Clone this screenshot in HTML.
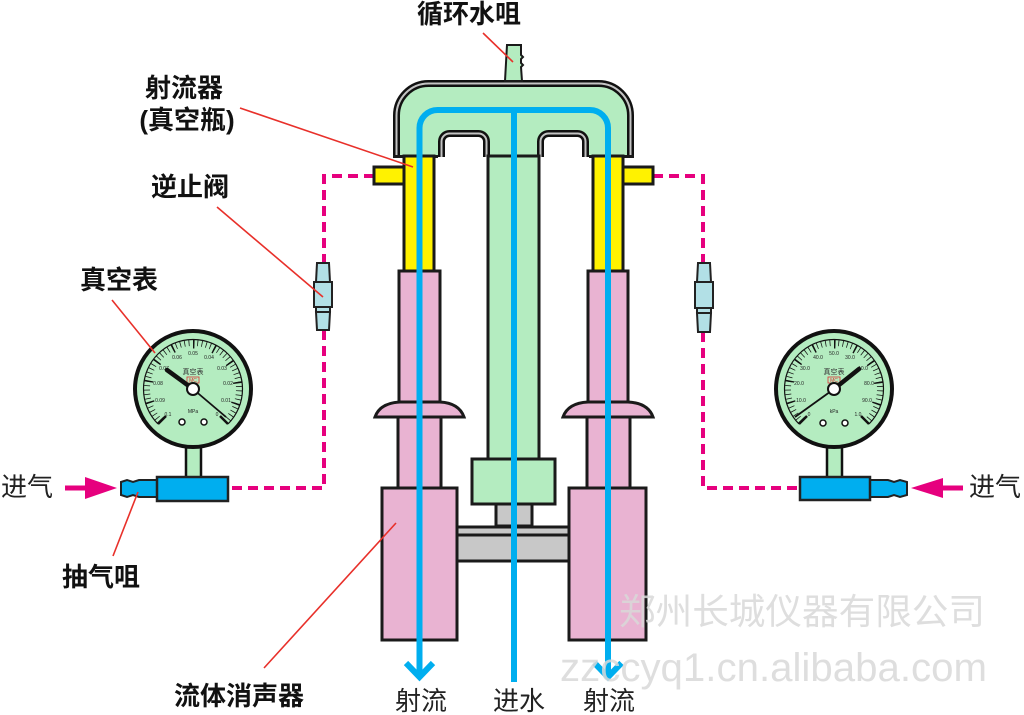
<!DOCTYPE html>
<html>
<head>
<meta charset="utf-8">
<style>
html,body{margin:0;padding:0;background:#fff;}
body{width:1024px;height:715px;overflow:hidden;}
svg{display:block;}
.lb{font-family:"Liberation Sans","Noto Sans CJK SC",sans-serif;font-weight:bold;font-size:26px;fill:#111;}
.ln{font-family:"Liberation Sans","Noto Sans CJK SC",sans-serif;font-weight:normal;font-size:26px;fill:#222;}
.g{font-family:"Liberation Sans","Noto Sans CJK SC",sans-serif;font-size:5px;fill:#222;}
.wm{font-family:"Liberation Sans","Noto Sans CJK SC",sans-serif;fill:#d9d9d9;opacity:0.85;}
</style>
</head>
<body>
<svg width="1024" height="715" viewBox="0 0 1024 715" xmlns="http://www.w3.org/2000/svg">
<!-- dashed magenta air lines -->
<g fill="none" stroke="#e6007e" stroke-width="4" stroke-dasharray="10 6">
  <path d="M374,176 L324,176 L324,263"/>
  <path d="M324,330 L324,488 L228,488"/>
  <path d="M653,176 L703,176 L703,263"/>
  <path d="M703,332 L703,488 L800,488"/>
</g>

<!-- check valves -->
<g fill="#b2e0e6" stroke="#222" stroke-width="2">
  <polygon points="317,263 329,263 330,282 316,282"/>
  <rect x="314" y="282" width="18" height="25"/>
  <rect x="316" y="307" width="14" height="5"/>
  <polygon points="316,312 330,312 329,330 317,330"/>
  <polygon points="698,263 710,263 711,282 697,282"/>
  <rect x="695" y="282" width="18" height="26"/>
  <rect x="697" y="308" width="14" height="5"/>
  <polygon points="697,313 711,313 710,332 698,332"/>
</g>

<!-- LEFT GAUGE -->
<g>
  <rect x="186" y="444" width="15" height="34" fill="#b4ecc0" stroke="#111" stroke-width="2.5"/>
  <circle cx="193" cy="389" r="58" fill="#b4ecc0" stroke="#111" stroke-width="4"/>
  <path d="M158,424 A49.5,49.5 0 1 1 228,424" fill="none" stroke="#111" stroke-width="1.2"/>
  <path d="M160.5,421.5 A46,46 0 1 1 225.5,421.5" fill="none" stroke="#111" stroke-width="6" pathLength="100" stroke-dasharray="0.35 1.65"/>
  <path d="M161.2,420.8 A45,45 0 1 1 224.8,420.8" fill="none" stroke="#111" stroke-width="9" pathLength="100" stroke-dasharray="0.7 9.3"/>
  <line x1="158" y1="424" x2="166" y2="416" stroke="#111" stroke-width="2.5"/>
  <line x1="228" y1="424" x2="220" y2="416" stroke="#111" stroke-width="2.5"/>
  <g class="g" text-anchor="middle">
    <text x="168" y="416">0.1</text>
    <text x="160" y="402">0.09</text>
    <text x="158" y="385">0.08</text>
    <text x="164" y="370">0.07</text>
    <text x="177" y="359">0.06</text>
    <text x="193" y="355">0.05</text>
    <text x="209" y="359">0.04</text>
    <text x="222" y="370">0.03</text>
    <text x="228" y="385">0.02</text>
    <text x="226" y="402">0.01</text>
    <text x="217" y="416">0</text>
    <text x="193" y="413">MPa</text>
  </g>
  <text x="193" y="374" text-anchor="middle" style="font-family:'Noto Sans CJK SC',sans-serif;font-size:7px;fill:#333;">真空表</text>
  <rect x="187" y="377" width="12" height="6" fill="none" stroke="#d33" stroke-width="0.8"/>
  <text x="193" y="382" text-anchor="middle" style="font-family:'Liberation Sans',sans-serif;font-size:5px;fill:#d33;">MC</text>
  <line x1="193" y1="389" x2="226" y2="417" stroke="#111" stroke-width="1.8"/>
  <line x1="193" y1="389" x2="167" y2="370" stroke="#111" stroke-width="4.5" stroke-linecap="round"/>
  <circle cx="193" cy="389" r="6" fill="#fff" stroke="#111" stroke-width="2"/>
  <circle cx="182" cy="422" r="3" fill="#fff" stroke="#111" stroke-width="1.5"/>
  <circle cx="204" cy="422" r="3" fill="#fff" stroke="#111" stroke-width="1.5"/>
  <!-- body -->
  <path d="M121,482 L127,480 L133,482 L139,480 L157,480 L157,497 L139,497 L133,495 L127,497 L121,495 Z" fill="#00aeef" stroke="#222" stroke-width="2"/>
  <rect x="157" y="477" width="71" height="24" fill="#00aeef" stroke="#222" stroke-width="2.5"/>
</g>

<!-- RIGHT GAUGE -->
<g>
  <rect x="827" y="444" width="15" height="34" fill="#b4ecc0" stroke="#111" stroke-width="2.5"/>
  <circle cx="834" cy="389" r="58" fill="#b4ecc0" stroke="#111" stroke-width="4"/>
  <path d="M799,424 A49.5,49.5 0 1 1 869,424" fill="none" stroke="#111" stroke-width="1.2"/>
  <path d="M801.5,421.5 A46,46 0 1 1 866.5,421.5" fill="none" stroke="#111" stroke-width="6" pathLength="100" stroke-dasharray="0.35 1.65"/>
  <path d="M802.2,420.8 A45,45 0 1 1 865.8,420.8" fill="none" stroke="#111" stroke-width="9" pathLength="100" stroke-dasharray="0.7 9.3"/>
  <line x1="799" y1="424" x2="807" y2="416" stroke="#111" stroke-width="2.5"/>
  <line x1="869" y1="424" x2="861" y2="416" stroke="#111" stroke-width="2.5"/>
  <g class="g" text-anchor="middle">
    <text x="809" y="416">0</text>
    <text x="801" y="402">10.0</text>
    <text x="799" y="385">20.0</text>
    <text x="805" y="370">30.0</text>
    <text x="818" y="359">40.0</text>
    <text x="834" y="355">50.0</text>
    <text x="850" y="359">30.0</text>
    <text x="863" y="370">10.0</text>
    <text x="869" y="385">80.0</text>
    <text x="867" y="402">90.0</text>
    <text x="858" y="416">1.0</text>
    <text x="834" y="413">kPa</text>
  </g>
  <text x="834" y="374" text-anchor="middle" style="font-family:'Noto Sans CJK SC',sans-serif;font-size:7px;fill:#333;">真空表</text>
  <rect x="828" y="377" width="12" height="6" fill="none" stroke="#d33" stroke-width="0.8"/>
  <text x="834" y="382" text-anchor="middle" style="font-family:'Liberation Sans',sans-serif;font-size:5px;fill:#d33;">MC</text>
  <line x1="834" y1="389" x2="795" y2="417" stroke="#111" stroke-width="1.8"/>
  <line x1="834" y1="389" x2="859" y2="369" stroke="#111" stroke-width="4.5" stroke-linecap="round"/>
  <circle cx="834" cy="389" r="6" fill="#fff" stroke="#111" stroke-width="2"/>
  <circle cx="823" cy="423" r="3" fill="#fff" stroke="#111" stroke-width="1.5"/>
  <circle cx="845" cy="423" r="3" fill="#fff" stroke="#111" stroke-width="1.5"/>
  <path d="M870,480 L888,480 L894,482 L900,480 L907,482 L907,495 L900,497 L894,495 L888,497 L870,497 Z" fill="#00aeef" stroke="#222" stroke-width="2"/>
  <rect x="800" y="477" width="70" height="23" fill="#00aeef" stroke="#222" stroke-width="2.5"/>
</g>

<!-- pink arrows -->
<g fill="#e6007e">
  <rect x="65" y="485.5" width="22" height="5"/>
  <polygon points="85,477 117,488 85,499"/>
  <rect x="941" y="485.5" width="22" height="5"/>
  <polygon points="943,478 911,488 943,498"/>
</g>

<!-- MAIN APPARATUS -->
<g stroke="#1a1a1a" stroke-width="3">
  <!-- cap -->
  <path d="M396.5,156 L396.5,115.5 A32,32 0 0 1 428.5,83.5 L598.5,83.5 A32,32 0 0 1 630.5,115.5 L630.5,156 Z" fill="#b4ecc0" stroke="none"/>
  <path d="M396.5,156 L396.5,115.5 A32,32 0 0 1 428.5,83.5 L598.5,83.5 A32,32 0 0 1 630.5,115.5 L630.5,156" fill="none" stroke="#111" stroke-width="7"/>
  <path d="M396.5,156 L396.5,115.5 A32,32 0 0 1 428.5,83.5 L598.5,83.5 A32,32 0 0 1 630.5,115.5 L630.5,156" fill="none" stroke="#c4c4c4" stroke-width="2"/>
  <!-- notches -->
  <path d="M441.5,157 L441.5,141.5 A8,8 0 0 1 449.5,133.5 L478.5,133.5 A8,8 0 0 1 486.5,141.5 L486.5,157 Z" fill="#fff" stroke="none"/>
  <path d="M441.5,157 L441.5,141.5 A8,8 0 0 1 449.5,133.5 L478.5,133.5 A8,8 0 0 1 486.5,141.5 L486.5,157" fill="none" stroke="#111" stroke-width="7"/>
  <path d="M441.5,157 L441.5,141.5 A8,8 0 0 1 449.5,133.5 L478.5,133.5 A8,8 0 0 1 486.5,141.5 L486.5,157" fill="none" stroke="#c4c4c4" stroke-width="2"/>
  <path d="M540.5,157 L540.5,141.5 A8,8 0 0 1 548.5,133.5 L577.5,133.5 A8,8 0 0 1 585.5,141.5 L585.5,157 Z" fill="#fff" stroke="none"/>
  <path d="M540.5,157 L540.5,141.5 A8,8 0 0 1 548.5,133.5 L577.5,133.5 A8,8 0 0 1 585.5,141.5 L585.5,157" fill="none" stroke="#111" stroke-width="7"/>
  <path d="M540.5,157 L540.5,141.5 A8,8 0 0 1 548.5,133.5 L577.5,133.5 A8,8 0 0 1 585.5,141.5 L585.5,157" fill="none" stroke="#c4c4c4" stroke-width="2"/>
  <line x1="393" y1="156.5" x2="438" y2="156.5"/>
  <line x1="589" y1="156.5" x2="634" y2="156.5"/>
  <!-- top nozzle -->
  <path d="M507,45 L521,45 L521,55 L523,57 L521,59 L521,63 L523,65 L521,67 L522,81 L505,81 Z" fill="#b4ecc0" stroke-width="2"/>

  <!-- yellow ports & tubes -->
  <rect x="374" y="167" width="30" height="17" fill="#fff200"/>
  <rect x="623" y="167" width="30" height="17" fill="#fff200"/>
  <rect x="404" y="156" width="30" height="115" fill="#fff200"/>
  <rect x="593" y="156" width="30" height="115" fill="#fff200"/>

  <!-- green column -->
  <rect x="488" y="156" width="51" height="303" fill="#b4ecc0"/>
  <rect x="472" y="459" width="83" height="45" fill="#b4ecc0"/>

  <!-- gray parts -->
  <rect x="496" y="504" width="36" height="22" fill="#c8c8c8"/>
  <rect x="457" y="527" width="112" height="34" fill="#c8c8c8"/>
  <line x1="457" y1="535" x2="569" y2="535"/>

  <!-- pink tubes -->
  <rect x="399" y="271" width="41" height="131" fill="#e9b3d2"/>
  <rect x="588" y="271" width="40" height="131" fill="#e9b3d2"/>
  <rect x="398" y="417" width="43" height="71" fill="#e9b3d2"/>
  <rect x="587" y="417" width="43" height="71" fill="#e9b3d2"/>
  <path d="M375,417 Q380,403 400,402 L440,402 Q459,403 464,417 Z" fill="#e9b3d2"/>
  <path d="M563,417 Q568,403 588,402 L628,402 Q648,403 653,417 Z" fill="#e9b3d2"/>
  <rect x="382" y="488" width="75" height="152" fill="#e9b3d2"/>
  <rect x="569" y="488" width="77" height="152" fill="#e9b3d2"/>
</g>

<!-- blue water lines -->
<g fill="none" stroke="#00aeef" stroke-width="6">
  <path d="M419.5,676 L419.5,128 A18,18 0 0 1 437.5,110 L590,110 A18,18 0 0 1 608,128 L608,676"/>
  <line x1="514" y1="110" x2="514" y2="682"/>
  <polyline points="406,663 419.5,677 433,663" stroke-linejoin="miter"/>
  <polyline points="594.5,663 608,677 621.5,663" stroke-linejoin="miter"/>
</g>

<!-- red leader lines -->
<g stroke="#e8302a" stroke-width="1.6">
  <line x1="483" y1="33" x2="513" y2="62"/>
  <line x1="240" y1="108" x2="413" y2="167"/>
  <line x1="217" y1="207" x2="323" y2="297"/>
  <line x1="112" y1="300" x2="155" y2="353"/>
  <line x1="113" y1="556" x2="138" y2="492"/>
  <line x1="264" y1="668" x2="396" y2="523"/>
</g>

<!-- labels -->
<text class="lb" x="469" y="23" text-anchor="middle">循环水咀</text>
<text class="lb" x="184" y="97" text-anchor="middle">射流器</text>
<text class="lb" x="187" y="129" text-anchor="middle">(真空瓶)</text>
<text class="lb" x="190" y="196" text-anchor="middle">逆止阀</text>
<text class="lb" x="119" y="289" text-anchor="middle">真空表</text>
<text class="lb" x="101" y="586" text-anchor="middle">抽气咀</text>
<text class="lb" x="239" y="705" text-anchor="middle">流体消声器</text>
<text class="ln" x="27" y="496" text-anchor="middle">进气</text>
<text class="ln" x="995" y="496" text-anchor="middle">进气</text>

<!-- watermark -->
<text class="wm" x="619" y="624" font-size="36" textLength="366" lengthAdjust="spacingAndGlyphs">郑州长城仪器有限公司</text>
<text class="wm" x="560" y="681" font-size="40" textLength="427" lengthAdjust="spacingAndGlyphs">zzccyq1.cn.alibaba.com</text>

<text class="ln" x="421" y="710" text-anchor="middle">射流</text>
<text class="ln" x="519" y="710" text-anchor="middle">进水</text>
<text class="ln" x="609" y="710" text-anchor="middle">射流</text>
</svg>
</body>
</html>
